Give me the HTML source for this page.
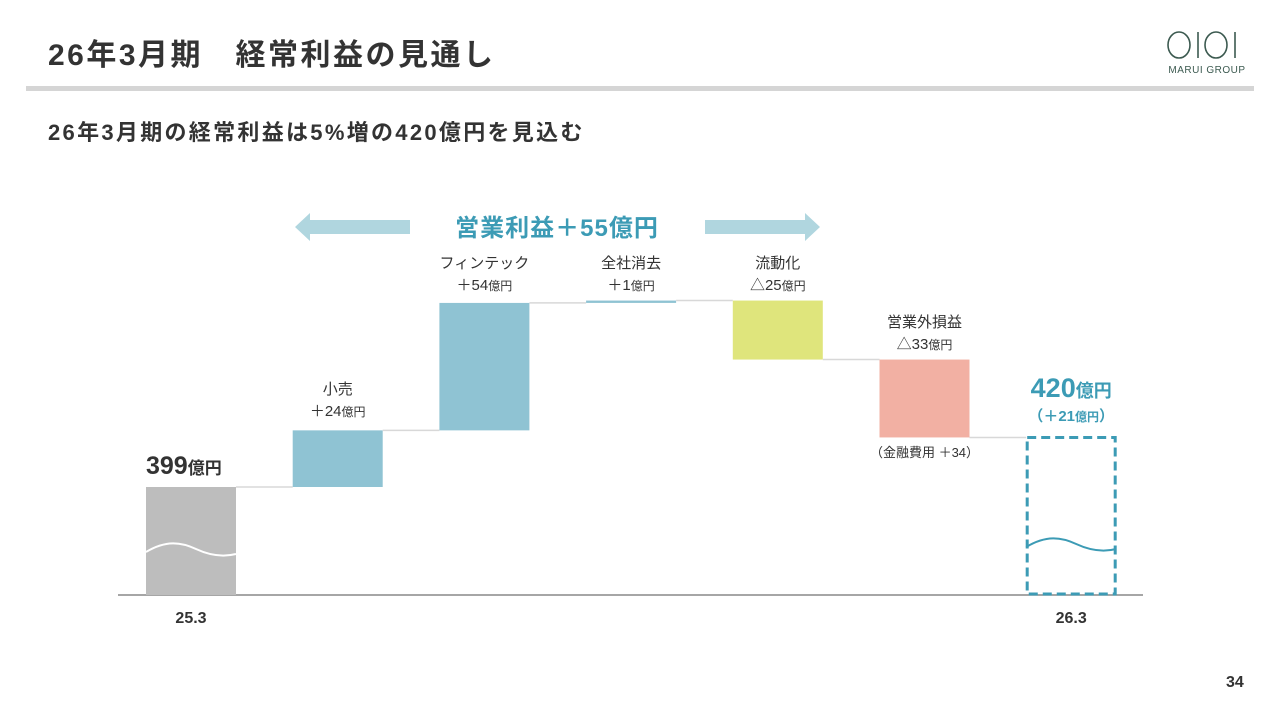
<!DOCTYPE html>
<html><head><meta charset="utf-8"><style>
body{margin:0;width:1280px;height:720px;background:#fff;overflow:hidden;font-family:"Liberation Sans","Noto Sans CJK JP",sans-serif;color:#333}
.t{position:absolute;white-space:nowrap}
</style></head><body>
<div class="t" style="left:48px;top:30px;font-size:30px;letter-spacing:2.5px;font-weight:bold;color:#333">26年3月期　経常利益の見通し</div>
<div style="position:absolute;left:26px;top:86px;width:1228px;height:5px;background:#d5d5d5"></div>
<div style="position:absolute;left:1160px;top:28px;width:95px;height:50px">
<svg width="95" height="50"><g fill="none" stroke="#3c5a50" stroke-width="1.6"><ellipse cx="19" cy="17" rx="11" ry="13"/><line x1="38" y1="4" x2="38" y2="30"/><ellipse cx="56" cy="17" rx="11" ry="13"/><line x1="75" y1="4" x2="75" y2="30"/></g>
<text x="47" y="45" text-anchor="middle" font-size="10" fill="#3c5a50" font-family="Liberation Sans, sans-serif" letter-spacing="0.5">MARUI GROUP</text></svg></div>
<div class="t" style="left:48px;top:115px;font-size:22px;letter-spacing:2.3px;font-weight:bold">26年3月期の経常利益は5%増の420億円を見込む</div>
<div class="t" style="left:1226px;top:674px;font-size:16px;font-weight:bold">34</div>
<svg id="chart" width="1280" height="720" style="position:absolute;left:0;top:0"></svg>
<script>
const categories=["25.3","小売","フィンテック","全社消去","流動化","営業外損益","26.3"];
const deltas=[399,24,54,1,-25,-33,420];
const valueLabels=["399","＋24","＋54","＋1","△25","△33","420"];
const colors=["#bdbdbd","#8fc3d3","#8fc3d3","#8fc3d3","#dfe57c","#f2b0a3","none"];
const NS="http://www.w3.org/2000/svg";
const svg=document.getElementById('chart');
const baseV=399,baseY=487,ppu=2.36,axisY=595;
function y(v){return baseY-(v-baseV)*ppu;}
function x(i){return 146+i*146.7;}
const bw=90;
function el(tag,attrs,txt){const e=document.createElementNS(NS,tag);for(const k in attrs)e.setAttribute(k,attrs[k]);if(txt!==undefined)e.textContent=txt;svg.appendChild(e);return e;}
let ax=el('line',{x1:118,x2:1143,y1:axisY,y2:axisY,stroke:'#888','stroke-width':1.5});


let cum=0;
for(let i=0;i<categories.length;i++){
  let a,b;
  if(i===0){cum=deltas[0];a=y(cum);b=axisY;}
  else if(i===categories.length-1){a=y(deltas[i]);b=axisY;}
  else{const prev=cum;cum+=deltas[i];a=Math.min(y(prev),y(cum));b=Math.max(y(prev),y(cum));}
  if(i<categories.length-1){
    const r=el('rect',{x:x(i),y:a,width:bw,height:Math.max(b-a,2),fill:colors[i]});
    
    
  } else {
    const r=el('rect',{x:x(i)+1,y:a,width:bw-2,height:b-a-1,fill:'none',stroke:'#3c9bb5','stroke-width':3,'stroke-dasharray':'9,5'});
    
    
  }
  if(i<categories.length-1){
    const yy=i===0?y(deltas[0]):y(cum);
    const c=el('line',{x1:x(i)+bw,x2:x(i+1),y1:yy,y2:yy,stroke:'#d8d8d8','stroke-width':1.5});
    
    
  }
}
function wave(x0,yc,col){return el('path',{d:`M${x0} ${yc} C${x0+20} ${yc-12} ${x0+35} ${yc-10} ${x0+50} ${yc-3} S${x0+78} ${yc+5} ${x0+90} ${yc+2}`,fill:'none',stroke:col,'stroke-width':2});}
let w1=wave(x(0),552,'#fff');
let w2=wave(x(6),547,'#3c9bb5');
const lblY=[0,388,262,262,262,321];
for(let i=1;i<=5;i++){
  const cx=x(i)+bw/2;
  const t1=el('text',{x:cx,y:lblY[i]+6,'text-anchor':'middle','font-size':15,fill:'#333'},categories[i]);
  
  
  const t2=el('text',{x:cx,y:lblY[i]+28,'text-anchor':'middle','font-size':15,fill:'#333'});
  
  
  t2.innerHTML=valueLabels[i]+'<tspan font-size="12">億円</tspan>';
}
let s=el('text',{x:x(0),y:474,'font-size':25,'font-weight':'bold',fill:'#333'});

s.innerHTML=valueLabels[0]+'<tspan font-size="17">億円</tspan>';
let e=el('text',{x:x(6)+bw/2,y:397,'text-anchor':'middle','font-size':27,'font-weight':'bold',fill:'#3c9bb5'});

e.innerHTML=valueLabels[6]+'<tspan font-size="18">億円</tspan>';
let e2=el('text',{x:x(6)+bw/2,y:421,'text-anchor':'middle','font-size':15,'font-weight':'bold',fill:'#3c9bb5'});

e2.innerHTML='（＋21<tspan font-size="12">億円</tspan>）';
let n=el('text',{x:x(5)+bw/2,y:457,'text-anchor':'middle','font-size':13,fill:'#333'},'（金融費用 ＋34）');

[0,6].forEach(i=>{const t=el('text',{x:x(i)+bw/2,y:623,'text-anchor':'middle','font-size':16,'font-weight':'bold',fill:'#333'},categories[i]);
});
let ar1=el('polygon',{points:'410,220 310,220 310,213 295,227 310,241 310,234 410,234',fill:'#b0d6df'});

let ar2=el('polygon',{points:'705,220 805,220 805,213 820,227 805,241 805,234 705,234',fill:'#b0d6df'});

let op=el('text',{x:557,y:236,'text-anchor':'middle','font-size':24,'letter-spacing':1,'font-weight':'bold',fill:'#3c9bb5'},'営業利益＋55億円');

</script>
</body></html>
